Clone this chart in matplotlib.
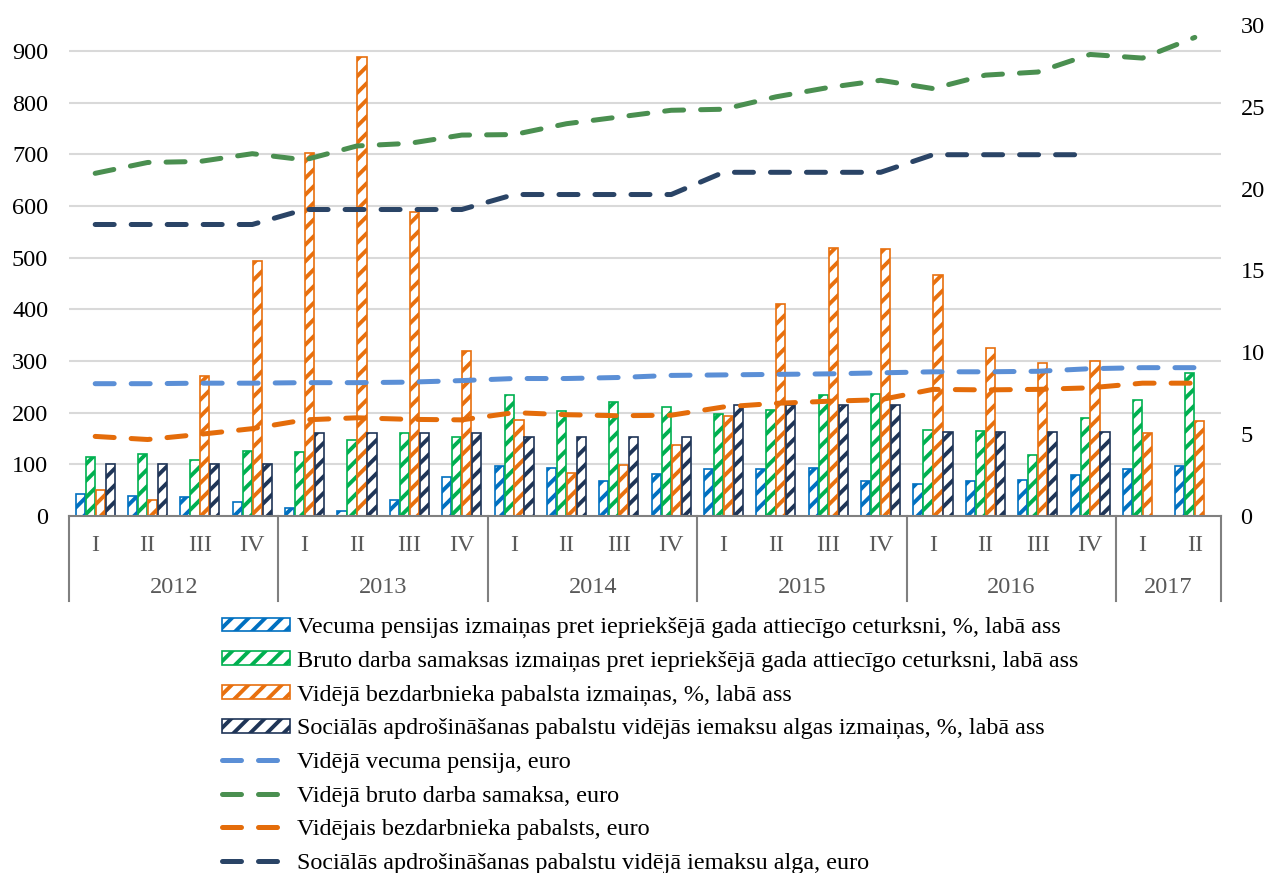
import numpy as np
import matplotlib
matplotlib.use('Agg')
import matplotlib.pyplot as plt
from matplotlib.lines import Line2D
from matplotlib.transforms import blended_transform_factory

OUT_FNAME = 'out.png'

plt.rcParams['font.family'] = ['Liberation Serif', 'DejaVu Serif']
plt.rcParams['hatch.linewidth'] = 2.8

YEARS = ['2012', '2013', '2014', '2015', '2016', '2017']
YEAR_QUARTERS = [4, 4, 4, 4, 4, 2]
QUARTERS = ['I', 'II', 'III', 'IV', 'I', 'II', 'III', 'IV', 'I', 'II', 'III',
            'IV', 'I', 'II', 'III', 'IV', 'I', 'II', 'III', 'IV', 'I', 'II']

# Bars, % change against the same quarter of the previous year (right axis)
pension_change = [1.33, 1.24, 1.18, 0.84, 0.47, 0.33, 1.00, 2.40, 3.07, 2.91, 2.11,
                  2.56, 2.87, 2.87, 2.91, 2.13, 1.97, 2.11, 2.21, 2.48, 2.89, 3.07]
wage_change = [3.59, 3.77, 3.44, 3.97, 3.93, 4.64, 5.07, 4.80, 7.42, 6.43, 6.95,
               6.66, 6.25, 6.45, 7.42, 7.45, 5.25, 5.20, 3.75, 5.96, 7.07, 8.73]
benefit_change = [1.60, 0.96, 8.53, 15.57, 22.2, 28.05, 18.6, 10.1, 5.88, 2.60, 3.14,
                  4.36, 6.11, 12.95, 16.4, 16.3, 14.75, 10.29, 9.34, 9.45, 5.10, 5.82]
insured_wage_change = [3.20, 3.20, 3.20, 3.20, 5.10, 5.10, 5.10, 5.10, 4.80, 4.80, 4.80,
                       4.80, 6.80, 6.80, 6.80, 6.80, 5.14, 5.14, 5.14, 5.14, np.nan, np.nan]

# Lines, euro (left axis)
pension = [256, 256, 257, 257, 258, 258, 259, 262, 266, 266, 268,
           272, 273, 274, 275, 277, 279, 279, 280, 285, 287, 287]
wage = [663, 684, 686, 701, 689, 716, 721, 737, 738, 759, 772,
        785, 787, 811, 829, 843, 827, 853, 859, 893, 886, 926]
benefit = [154, 148, 158, 169, 186, 190, 187, 186, 200, 196, 194,
           195, 211, 218, 222, 225, 245, 244, 245, 248, 257, 257]
insured_wage = [564, 564, 564, 564, 593, 593, 593, 593, 622, 622, 622,
                622, 665, 665, 665, 665, 699, 699, 699, 699, np.nan, np.nan]

BAR_SERIES = [
    (pension_change, '#0070C0',
     'Vecuma pensijas izmaiņas pret iepriekšējā gada attiecīgo ceturksni, %, labā ass'),
    (wage_change, '#00B050',
     'Bruto darba samaksas izmaiņas pret iepriekšējā gada attiecīgo ceturksni, labā ass'),
    (benefit_change, '#E8700E',
     'Vidējā bezdarbnieka pabalsta izmaiņas, %, labā ass'),
    (insured_wage_change, '#1F3557',
     'Sociālās apdrošināšanas pabalstu vidējās iemaksu algas izmaiņas, %, labā ass'),
]
LINE_SERIES = [
    (pension, '#5B8FD6', 'Vidējā vecuma pensija, euro'),
    (wage, '#4A8F50', 'Vidējā bruto darba samaksa, euro'),
    (benefit, '#E46C0A', 'Vidējais bezdarbnieka pabalsts, euro'),
    (insured_wage, '#2A4466', 'Sociālās apdrošināšanas pabalstu vidējā iemaksu alga, euro'),
]

LEFT_TICKS = [0, 100, 200, 300, 400, 500, 600, 700, 800, 900]
RIGHT_TICKS = [0, 5, 10, 15, 20, 25, 30]
FS = 17.5


def plot_chart():
    fig = plt.figure(figsize=(12.68, 8.73), dpi=100)
    W, H = 1268.0, 873.0
    ax = fig.add_axes([69 / W, 1 - 516 / H, (1221 - 69) / W, 491 / H])
    ax2 = ax.twinx()

    # lines (left axis) go on top of the bars (right axis)
    ax.set_zorder(2)
    ax2.set_zorder(1)
    ax.patch.set_visible(False)

    x = np.arange(len(QUARTERS))
    width = 0.19
    handles = []

    # gridlines belong to the left scale, but sit behind the bars
    grid_tr = blended_transform_factory(ax2.transAxes, ax.transData)
    for t in LEFT_TICKS[1:]:
        ax2.add_line(Line2D([0, 1], [t, t], transform=grid_tr,
                            color='#d9d9d9', lw=1.5, zorder=0))

    for i, (vals, color, label) in enumerate(BAR_SERIES):
        b = ax2.bar(x + (i - 1.5) * width, vals, width * 0.92,
                    facecolor='white', edgecolor=color, hatch='//',
                    lw=1.2, label=label, zorder=2)
        handles.append(b)

    for vals, color, label in LINE_SERIES:
        l, = ax.plot(x, vals, color=color, lw=3.6, dashes=(3.8, 3.4),
                     dash_capstyle='round', label=label)
        handles.append(l)

    ax.set_xlim(-0.5, len(QUARTERS) - 0.5)
    ax.set_ylim(0, 950)
    ax2.set_ylim(0, 30)

    ax.set_yticks(LEFT_TICKS)
    ax2.set_yticks(RIGHT_TICKS)
    ax.tick_params(axis='y', length=0, pad=15, labelsize=FS)
    ax2.tick_params(axis='y', length=0, pad=14, labelsize=FS)
    ax.set_xticks([])

    for a in (ax, ax2):
        for s in ('top', 'left', 'right', 'bottom'):
            a.spines[s].set_visible(False)
    ax.axhline(0, color='#808080', lw=1.5, zorder=5, clip_on=False)

    # two-level category axis: quarters then years
    tr = blended_transform_factory(ax.transData, ax.transAxes)
    for xi, q in zip(x, QUARTERS):
        ax.text(xi, -0.061, q, transform=tr, ha='center', va='center',
                fontsize=FS, color='#595959')
    start = 0
    edges = [-0.5]
    for year, n in zip(YEARS, YEAR_QUARTERS):
        ax.text(start + (n - 1) / 2.0, -0.145, year, transform=tr,
                ha='center', va='center', fontsize=FS, color='#595959')
        start += n
        edges.append(start - 0.5)
    for e in edges:
        ax.add_line(Line2D([e, e], [0, -0.173], transform=tr, color='#808080',
                           lw=1.5, clip_on=False))

    fig.legend(handles=handles, loc='upper left',
               bbox_to_anchor=(222 / W, 1 - 617 / H), frameon=False,
               fontsize=17.4, handlelength=2.8, handleheight=0.5,
               handletextpad=0.3, labelspacing=0.52, borderpad=0,
               borderaxespad=0)

    fig.savefig(OUT_FNAME, dpi=100)


if __name__ == '__main__':
    plot_chart()
